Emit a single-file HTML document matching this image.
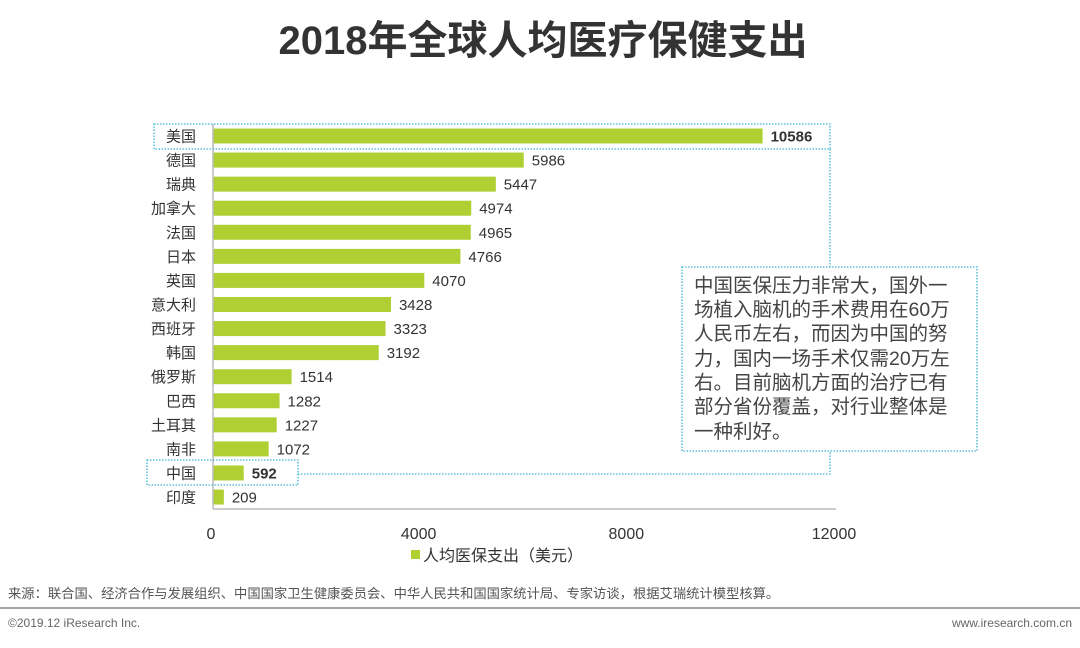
<!DOCTYPE html>
<html><head><meta charset="utf-8"><style>
body{margin:0;background:#fff;width:1080px;height:643px;overflow:hidden;font-family:"Liberation Sans","Noto Sans CJK SC",sans-serif;}
</style></head><body>
<svg width="1080" height="643" xmlns="http://www.w3.org/2000/svg" font-family="Liberation Sans, Noto Sans CJK SC, sans-serif">
<text x="543" y="54" text-anchor="middle" font-size="40" font-weight="bold" fill="#333">2018年全球人均医疗保健支出</text>
<g id="plot"></g>
<rect x="154" y="124" width="676" height="25" fill="none" stroke="#3cb4d4" stroke-width="1.3" stroke-dasharray="1.5,1.5"/>
<rect x="147" y="460" width="151" height="25" fill="none" stroke="#3cb4d4" stroke-width="1.3" stroke-dasharray="1.5,1.5"/>
<polyline points="298,474 830,474 830,451" fill="none" stroke="#3cb4d4" stroke-width="1.3" stroke-dasharray="1.5,1.5"/>
<line x1="830" y1="149" x2="830" y2="267" stroke="#3cb4d4" stroke-width="1.3" stroke-dasharray="1.5,1.5"/>
<rect x="682" y="267" width="295" height="184" fill="#fff" stroke="#3cb4d4" stroke-width="1.3" stroke-dasharray="1.5,1.5"/>
<g font-size="19.5" fill="#444">
<text x="694" y="292">中国医保压力非常大，国外一</text>
<text x="694" y="316">场植入脑机的手术费用在60万</text>
<text x="694" y="340">人民币左右，而因为中国的努</text>
<text x="694" y="365">力，国内一场手术仅需20万左</text>
<text x="694" y="389">右。目前脑机方面的治疗已有</text>
<text x="694" y="413">部分省份覆盖，对行业整体是</text>
<text x="694" y="438">一种利好。</text>
</g>
<rect x="411" y="550" width="9" height="9" fill="#b0cf33"/>
<text x="423" y="561" font-size="16" fill="#333">人均医保支出（美元）</text>
<text x="8" y="598" font-size="13.3" fill="#555">来源：联合国、经济合作与发展组织、中国国家卫生健康委员会、中华人民共和国国家统计局、专家访谈，根据艾瑞统计模型核算。</text>
<line x1="0" y1="608" x2="1080" y2="608" stroke="#888" stroke-width="1.5"/>
<text x="8" y="627" font-size="12" fill="#666">©2019.12 iResearch Inc.</text>
<text x="1072" y="627" font-size="12" fill="#666" text-anchor="end">www.iresearch.com.cn</text>
</svg>
<script>
const categories=["美国","德国","瑞典","加拿大","法国","日本","英国","意大利","西班牙","韩国","俄罗斯","巴西","土耳其","南非","中国","印度"];
const values=[10586,5986,5447,4974,4965,4766,4070,3428,3323,3192,1514,1282,1227,1072,592,209];
const boldCats=["美国","中国"];
const ticks=[0,4000,8000,12000];
const NS="http://www.w3.org/2000/svg";
const g=document.getElementById('plot');
const x0=213,x1=836,xmax=12000,y0=136,step=24.07,bh=15;
const xs=v=>x0+(x1-x0)*v/xmax;
const ys=i=>y0+i*step;
function mk(t,a){const e=document.createElementNS(NS,t);for(const k in a)e.setAttribute(k,a[k]);g.appendChild(e);return e;}
categories.forEach((c,i)=>{
 const b=mk('rect',{x:x0,y:ys(i)-bh/2,width:xs(values[i])-x0,height:bh,fill:'#b0cf33'});
 
 
 const l=mk('text',{x:196,y:ys(i)+5.5,'text-anchor':'end','font-size':15,fill:'#333'});
 l.textContent=c;
 
 
 const v=mk('text',{x:xs(values[i])+8,y:ys(i)+5.5,'font-size':15,fill:'#333','font-weight':boldCats.includes(c)?'bold':'normal'});
 v.textContent=values[i];
 
 
});
const ax=mk('line',{x1:x0,y1:124,x2:x0,y2:509,stroke:'#bbb','stroke-width':1.5});


const bx=mk('line',{x1:x0,y1:509,x2:836,y2:509,stroke:'#bbb','stroke-width':1.5});


ticks.forEach(t=>{
 const e=mk('text',{x:xs(t)-2,y:539,'text-anchor':'middle','font-size':16,fill:'#333'});
 e.textContent=t;
 
 
});
</script>
</body></html>
